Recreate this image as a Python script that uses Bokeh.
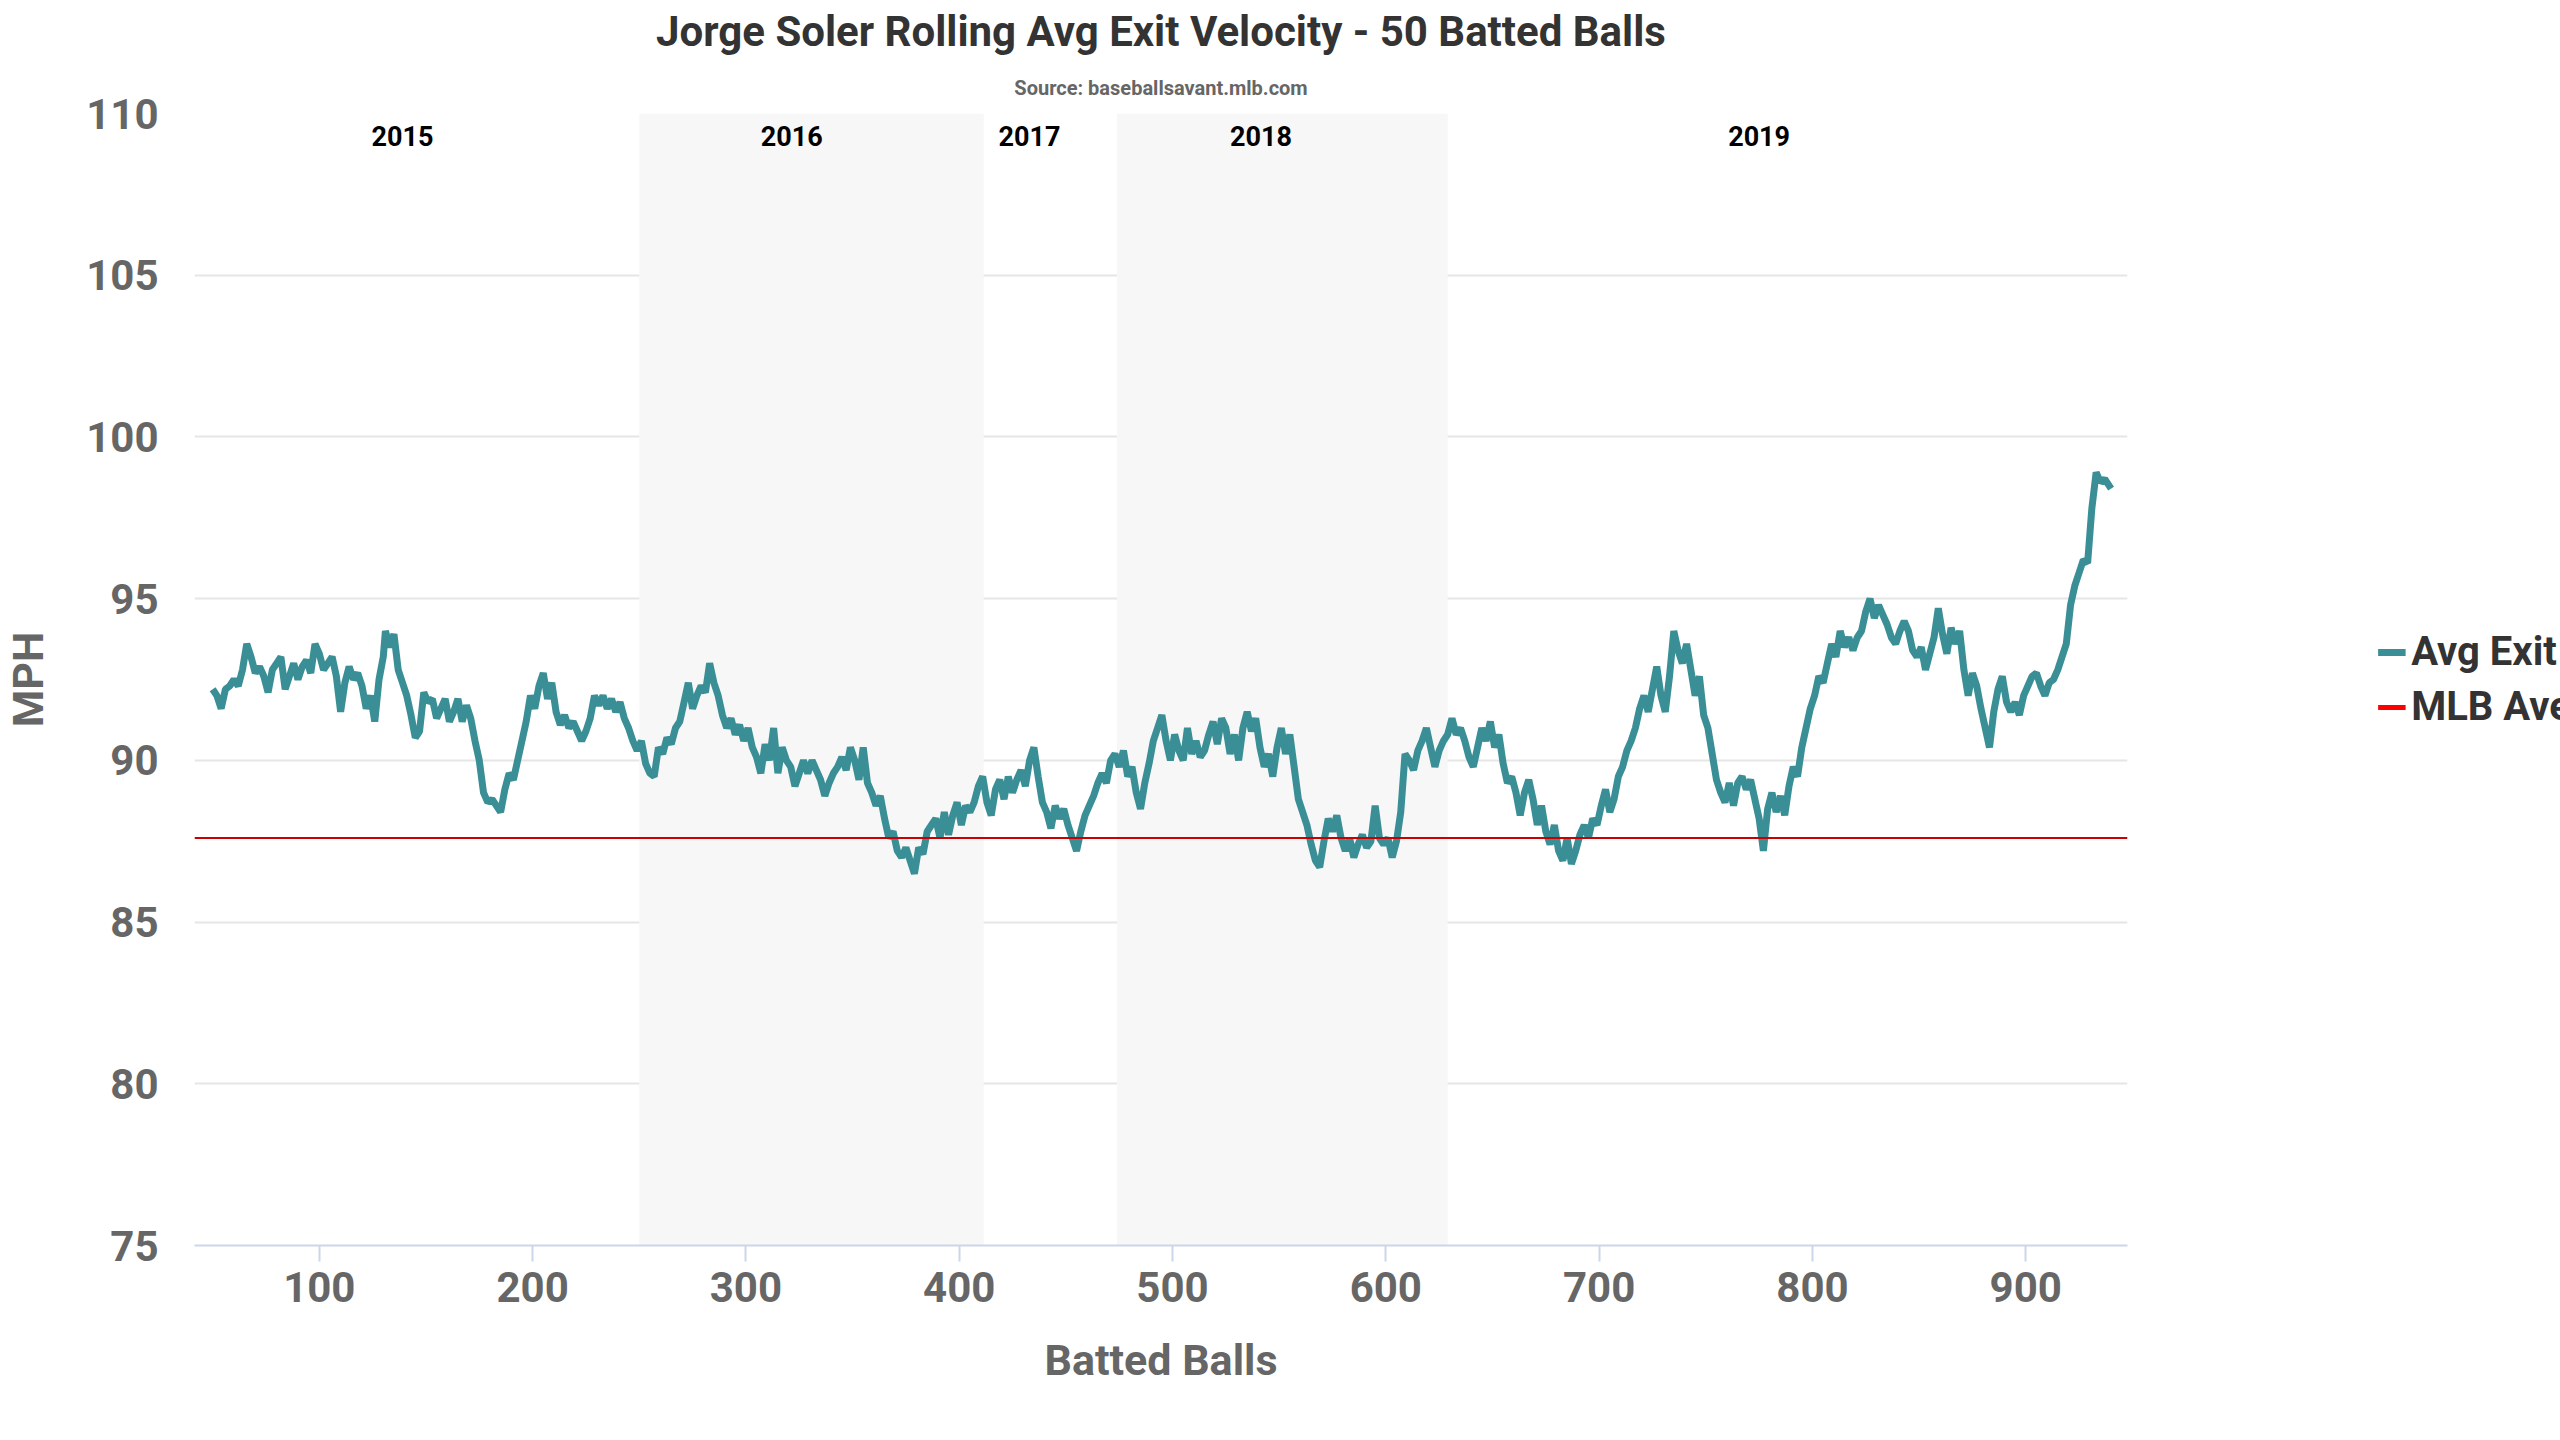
from bokeh.plotting import figure
from bokeh.models import Legend, LegendItem, Title, Range1d, FixedTicker, BoxAnnotation, Span
from bokeh.embed import file_html
from bokeh.resources import INLINE
from bokeh.core.properties import value

RAW = """50 92.2, 52 92.0, 54 91.6, 56 92.2, 58 92.3, 60 92.5, 62 92.3, 64 92.8, 66 93.6, 68 93.2, 70 92.7, 72 92.9, 74 92.6, 76 92.1, 78 92.8, 80 93.0, 82 93.2, 84 92.2, 86 92.6, 88 93.0, 90 92.5, 92 92.9, 94 93.1, 96 92.7, 98 93.6, 100 93.3, 102 92.8, 104 93.0, 106 93.2, 108 92.6, 110 91.5, 112 92.4, 114 92.9, 116 92.5, 118 92.7, 120 92.3, 122 91.6, 124 92.0, 126 91.2, 128 92.5, 130 93.2, 131 94.0, 133 93.5, 135 93.9, 137 92.8, 139 92.4, 141 92.0, 143 91.4, 145 90.7, 147 90.9, 149 92.1, 151 91.8, 153 91.9, 155 91.3, 157 91.6, 159 91.9, 161 91.2, 163 91.5, 165 91.9, 167 91.2, 169 91.7, 171 91.3, 173 90.6, 175 90.0, 177 89.0, 179 88.7, 181 88.8, 183 88.6, 185 88.4, 187 89.1, 189 89.6, 191 89.4, 193 90.0, 195 90.6, 197 91.2, 199 92.0, 201 91.6, 203 92.3, 205 92.7, 207 91.9, 209 92.4, 211 91.5, 213 91.1, 215 91.4, 217 91.0, 219 91.2, 221 90.9, 223 90.6, 225 90.9, 227 91.3, 229 92.0, 231 91.7, 233 92.0, 235 91.6, 237 91.9, 239 91.5, 241 91.8, 243 91.3, 245 91.0, 247 90.6, 249 90.3, 251 90.6, 253 89.9, 255 89.6, 257 89.5, 259 90.4, 261 90.2, 263 90.7, 265 90.5, 267 91.0, 269 91.2, 271 91.8, 273 92.4, 275 91.6, 277 92.0, 279 92.3, 281 92.1, 283 93.0, 285 92.4, 287 92.0, 289 91.4, 291 91.0, 293 91.3, 295 90.8, 297 91.1, 299 90.6, 301 91.0, 303 90.4, 305 90.1, 307 89.6, 309 90.5, 311 90.0, 313 91.0, 315 89.6, 317 90.4, 319 90.0, 321 89.8, 323 89.2, 325 89.6, 327 90.0, 329 89.6, 331 90.0, 333 89.7, 335 89.4, 337 88.9, 339 89.3, 341 89.6, 343 89.8, 345 90.1, 347 89.7, 349 90.4, 351 90.0, 353 89.4, 355 90.4, 357 89.3, 359 89.0, 361 88.6, 363 88.9, 365 88.2, 367 87.6, 369 87.8, 371 87.2, 373 87.0, 375 87.3, 377 86.9, 379 86.5, 381 87.3, 383 87.1, 385 87.8, 387 88.0, 389 88.2, 391 87.6, 393 88.4, 395 87.7, 397 88.3, 399 88.7, 401 88.0, 403 88.6, 405 88.4, 407 88.7, 409 89.2, 411 89.5, 413 88.7, 415 88.3, 417 89.1, 419 89.4, 421 88.8, 423 89.5, 425 89.0, 427 89.4, 429 89.7, 431 89.2, 433 90.0, 435 90.4, 437 89.5, 439 88.7, 441 88.4, 443 87.9, 445 88.6, 447 88.2, 449 88.5, 451 88.0, 453 87.6, 455 87.2, 457 87.8, 459 88.3, 461 88.6, 463 88.9, 465 89.3, 467 89.6, 469 89.3, 471 90.0, 473 90.2, 475 89.8, 477 90.3, 479 89.5, 481 89.8, 483 89.0, 485 88.5, 487 89.3, 489 89.9, 491 90.6, 493 91.0, 495 91.4, 497 90.6, 499 90.0, 501 90.8, 503 90.3, 505 90.0, 507 91.0, 509 90.2, 511 90.6, 513 90.1, 515 90.3, 517 90.8, 519 91.2, 521 90.5, 523 91.3, 525 91.0, 527 90.2, 529 90.8, 531 90.0, 533 91.0, 535 91.5, 537 90.9, 539 91.3, 541 90.4, 543 89.8, 545 90.2, 547 89.5, 549 90.4, 551 91.0, 553 90.2, 555 90.8, 557 89.8, 559 88.8, 561 88.4, 563 88.0, 565 87.4, 567 86.9, 569 86.7, 571 87.5, 573 88.2, 575 87.8, 577 88.3, 579 87.6, 581 87.2, 583 87.6, 585 87.0, 587 87.4, 589 87.7, 591 87.3, 593 87.5, 595 88.6, 597 87.6, 599 87.4, 601 87.6, 603 87.0, 605 87.5, 607 88.4, 609 90.2, 611 90.0, 613 89.7, 615 90.3, 617 90.6, 619 91.0, 621 90.4, 623 89.8, 625 90.3, 627 90.6, 629 90.8, 631 91.3, 633 90.8, 635 91.0, 637 90.6, 639 90.1, 641 89.8, 643 90.4, 645 91.0, 647 90.6, 649 91.2, 651 90.4, 653 90.8, 655 89.9, 657 89.3, 659 89.5, 661 89.0, 663 88.3, 665 89.0, 667 89.4, 669 88.8, 671 88.0, 673 88.6, 675 87.8, 677 87.4, 679 88.0, 681 87.2, 683 86.9, 685 87.6, 687 86.8, 689 87.2, 691 87.7, 693 88.0, 695 87.6, 697 88.2, 699 88.0, 701 88.6, 703 89.1, 705 88.4, 707 88.8, 709 89.5, 711 89.8, 713 90.3, 715 90.6, 717 91.0, 719 91.6, 721 92.0, 723 91.5, 725 92.2, 727 92.9, 729 92.0, 731 91.5, 733 92.6, 735 94.0, 737 93.4, 739 93.0, 741 93.6, 743 92.8, 745 92.0, 747 92.6, 749 91.4, 751 91.0, 753 90.2, 755 89.4, 757 89.0, 759 88.7, 761 89.3, 763 88.6, 765 89.3, 767 89.5, 769 89.1, 771 89.4, 773 88.8, 775 88.2, 777 87.2, 779 88.5, 781 89.0, 783 88.4, 785 88.9, 787 88.3, 789 89.2, 791 89.8, 793 89.5, 795 90.4, 797 91.0, 799 91.6, 801 92.0, 803 92.6, 805 92.4, 807 93.0, 809 93.6, 811 93.2, 813 94.0, 815 93.5, 817 93.8, 819 93.4, 821 93.8, 823 94.0, 825 94.6, 827 95.0, 829 94.4, 831 94.8, 833 94.5, 835 94.2, 837 93.8, 839 93.6, 841 94.0, 843 94.3, 845 94.0, 847 93.4, 849 93.2, 851 93.5, 853 92.8, 855 93.3, 857 93.8, 859 94.7, 861 93.9, 863 93.3, 865 94.1, 867 93.6, 869 94.0, 871 92.8, 873 92.0, 875 92.7, 877 92.3, 879 91.6, 881 91.0, 883 90.4, 885 91.5, 887 92.2, 889 92.6, 891 91.8, 893 91.5, 895 91.8, 897 91.4, 899 92.0, 901 92.3, 903 92.6, 905 92.7, 907 92.3, 909 92.0, 911 92.4, 913 92.5, 915 92.8, 917 93.2, 919 93.6, 921 94.8, 923 95.4, 925 95.8, 927 96.2, 929 96.1, 931 97.8, 933 98.9, 935 98.6, 937 98.7, 939 98.5, 940 98.4"""
pairs = [p.split() for p in RAW.replace("\n", " ").split(",")]
batted_balls = [int(a) for a, b in pairs]
avg_ev = [float(b) for a, b in pairs]

mlb_average = 87.6
season_bands = [(250, 411.5), (474, 629)]
season_labels = ["2015", "2016", "2017", "2018", "2019"]
season_label_x = [139, 321.5, 433, 541.5, 775]
y_ticks = [75, 80, 85, 90, 95, 100, 105, 110]
x_ticks = [100, 200, 300, 400, 500, 600, 700, 800, 900]

FONT = "Roboto"
p = figure(frame_width=1933, frame_height=1132, output_backend="svg", toolbar_location=None,
           x_range=Range1d(41.5, 947.7), y_range=Range1d(75, 110),
           min_border_left=192, min_border_top=10, min_border_bottom=30, min_border_right=0)
p.outline_line_color = None
p.background_fill_color = "white"

src = Title(text="Source: baseballsavant.mlb.com", align="center", text_font=FONT,
            text_font_size="20px", text_color="#666666", text_font_style="bold", standoff=28)
p.add_layout(src, "above")
p.title.text = "Jorge Soler Rolling Avg Exit Velocity - 50 Batted Balls"
p.title.align = "center"
p.title.text_font = FONT
p.title.text_font_size = "42px"
p.title.text_color = "#333333"
p.title.text_font_style = "bold"
p.title.standoff = 8

for a, b in season_bands:
    p.add_layout(BoxAnnotation(left=a, right=b, fill_color="#f7f7f7", fill_alpha=1, line_color=None, level="underlay"))

p.text(x=season_label_x, y=[109.3] * 5, text=season_labels, text_align="center", text_baseline="middle",
       text_font=value(FONT), text_font_size="27px", text_font_style="bold", text_color="black")

p.add_layout(Span(location=mlb_average, dimension="width", line_color="#cc0000", line_width=2))
r_ev = p.line(batted_balls, avg_ev, line_color="#3a8f96", line_width=7)
r_mlb = p.line([0], [mlb_average], line_color="red", line_width=5)

p.xgrid.visible = False
p.ygrid.grid_line_color = "#e6e6e6"
p.ygrid.grid_line_width = 2
p.yaxis.ticker = FixedTicker(ticks=y_ticks)
p.xaxis.ticker = FixedTicker(ticks=x_ticks)
p.yaxis.axis_line_color = None
p.yaxis.major_tick_line_color = None
p.yaxis.minor_tick_line_color = None
p.xaxis.axis_line_color = "#ccd6eb"
p.xaxis.axis_line_width = 2
p.xaxis.major_tick_line_color = "#ccd6eb"
p.xaxis.major_tick_line_width = 2
p.xaxis.major_tick_in = 0
p.xaxis.major_tick_out = 16
p.xaxis.minor_tick_line_color = None
p.yaxis.major_label_standoff = 30
p.xaxis.major_label_standoff = 10
for ax in (p.xaxis, p.yaxis):
    ax.major_label_text_font = FONT
    ax.major_label_text_font_size = "42px"
    ax.major_label_text_font_style = "bold"
    ax.major_label_text_color = "#666666"
    ax.axis_label_text_font = FONT
    ax.axis_label_text_font_size = "43px"
    ax.axis_label_text_font_style = "bold"
    ax.axis_label_text_color = "#666666"
    ax.axis_label_standoff = 30
p.xaxis.axis_label = "Batted Balls"
p.yaxis.axis_label = "MPH"

legend = Legend(items=[LegendItem(label="Avg Exit Velocity", renderers=[r_ev]),
                       LegendItem(label="MLB Average", renderers=[r_mlb])],
                location="center", label_text_font=FONT, label_text_font_size="40px",
                label_text_font_style="bold", label_text_color="#333333",
                border_line_color=None, glyph_width=28, spacing=8, padding=4, margin=14,
                label_standoff=6)
p.add_layout(legend, "right")

open("out.html", "w").write(file_html(p, INLINE))
